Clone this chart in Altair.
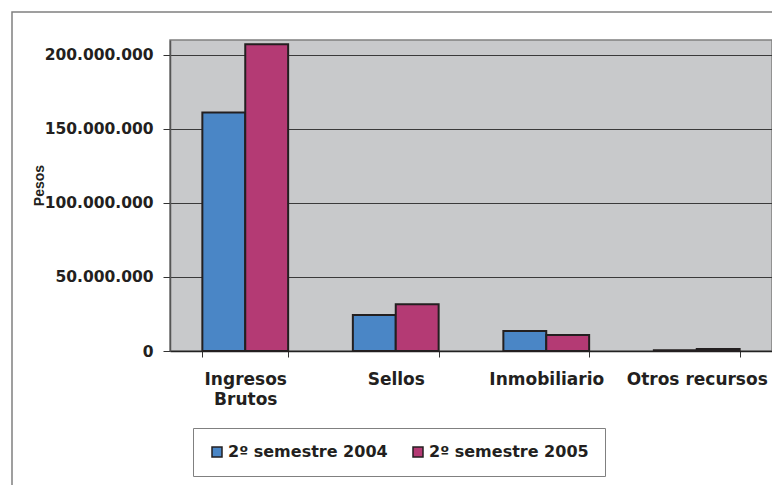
import altair as alt
import pandas as pd

categories = ["Ingresos Brutos", "Sellos", "Inmobiliario", "Otros recursos"]
series = ["2º semestre 2004", "2º semestre 2005"]
values_2004 = [161100000, 24300000, 13500000, 500000]
values_2005 = [207200000, 31600000, 10800000, 1300000]
colors = ["#4a86c6", "#b43a74"]
y_ticks = [0, 50000000, 100000000, 150000000, 200000000]

rows = []
for c, a, b in zip(categories, values_2004, values_2005):
    rows.append({"cat": c, "serie": series[0], "val": a})
    rows.append({"cat": c, "serie": series[1], "val": b})
df = pd.DataFrame(rows)

TXT = "#231f20"
FONT = "DejaVu Sans"

bars = alt.Chart(df).mark_bar(stroke="#231f20", strokeWidth=2).encode(
    x=alt.X(
        "cat:N",
        sort=categories,
        title=None,
        scale=alt.Scale(paddingInner=0.43, paddingOuter=0.215),
        axis=alt.Axis(
            labelAngle=0,
            labelFont=FONT,
            labelFontSize=17,
            labelFontWeight="bold",
            labelColor=TXT,
            labelPadding=14,
            labelLineHeight=20,
            labelBaseline="top",
            labelExpr="datum.value == 'Ingresos Brutos' ? ['Ingresos', 'Brutos'] : datum.value",
            tickBand="extent",
            tickSize=6,
            tickColor="#333333",
            domainColor="#222222",
            domainWidth=1.5,
            grid=False,
        ),
    ),
    xOffset=alt.XOffset("serie:N", sort=series, scale=alt.Scale(paddingInner=0, paddingOuter=0)),
    y=alt.Y(
        "val:Q",
        scale=alt.Scale(domain=[0, 210000000], nice=False),
        title="Pesos",
        axis=alt.Axis(
            values=y_ticks,
            format=",d",
            labelFont=FONT,
            labelFontSize=15.5,
            labelFontWeight="bold",
            labelColor=TXT,
            labelPadding=10,
            tickSize=7,
            tickColor="#333333",
            domainColor="#555555",
            domainWidth=1.5,
            grid=True,
            gridColor="#3a3a3a",
            gridWidth=1,
            titleFont="Liberation Sans",
            titleFontSize=14,
            titleFontWeight="bold",
            titleColor=TXT,
            titleAngle=270,
            titleX=-131,
            titleY=145,
            titleAlign="center",
            titleBaseline="middle",
        ),
    ),
    color=alt.Color(
        "serie:N",
        sort=series,
        scale=alt.Scale(domain=series, range=colors),
        legend=alt.Legend(
            title=None,
            orient="none",
            legendX=23,
            legendY=388,
            direction="horizontal",
            fillColor="white",
            strokeColor="#808080",
            padding=16,
            labelFont=FONT,
            labelFontSize=16,
            labelFontWeight="bold",
            labelColor=TXT,
            labelLimit=400,
            labelOffset=3,
            columnPadding=22,
            symbolType="square",
            symbolSize=100,
            symbolStrokeColor="#231f20",
            symbolStrokeWidth=1.5,
        ),
    ),
)

frame = alt.Chart(pd.DataFrame({"a": [0]})).mark_rect(
    fill=None, stroke="#808080", strokeWidth=1.5, clip=False
).encode(
    x=alt.value(-158), x2=alt.value(2000), y=alt.value(-28), y2=alt.value(520)
)

chart = (
    alt.layer(frame, bars)
    .properties(
        width=602,
        height=311,
        autosize=alt.AutoSizeParams(type="none"),
        padding={"left": 162, "top": 32, "right": 0, "bottom": 134},
        background="white",
    )
    .configure(
        locale={"number": {"decimal": ",", "thousands": ".", "grouping": [3], "currency": ["$", ""]}},
        view={"fill": "#c8c9cb", "stroke": "#808080", "strokeWidth": 1.5},
    )
)

chart.save("out.html", embed_options={"renderer": "svg", "actions": False})
